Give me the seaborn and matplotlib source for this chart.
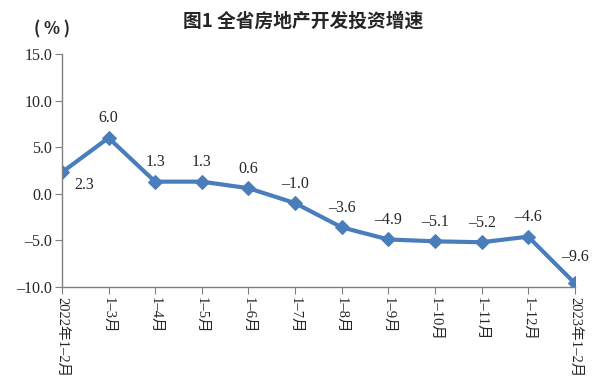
import pandas as pd
import seaborn as sns
import matplotlib.pyplot as plt

# Data
periods = ["2022年1–2月", "1–3月", "1–4月", "1–5月", "1–6月", "1–7月",
           "1–8月", "1–9月", "1–10月", "1–11月", "1–12月", "2023年1–2月"]
growth = [2.3, 6.0, 1.3, 1.3, 0.6, -1.0, -3.6, -4.9, -5.1, -5.2, -4.6, -9.6]
y_ticks = [-10.0, -5.0, 0.0, 5.0, 10.0, 15.0]

sns.set_style("white")
plt.rcParams["font.family"] = ["Liberation Serif", "Noto Sans CJK SC"]
plt.rcParams["axes.unicode_minus"] = False

df = pd.DataFrame({"pos": range(len(periods)), "growth": growth})

fig = plt.figure(figsize=(6.07, 3.91), dpi=100)
ax = fig.add_axes([0.102, 0.266, 0.845, 0.596])

line_color = "#4a7ebb"
sns.lineplot(data=df, x="pos", y="growth", ax=ax, color=line_color,
             linewidth=3, marker="D", markersize=7.5, markeredgecolor=line_color)

# Value labels
for i, v in enumerate(growth):
    txt = f"{v:.1f}".replace("-", "–")
    if i == 0:
        ax.annotate(txt, (i, v), xytext=(9, -9), textcoords="offset points",
                    ha="left", va="center", fontsize=11.5)
    elif i == len(growth) - 1:
        ax.annotate(txt, (i, v), xytext=(0, 19), textcoords="offset points",
                    ha="center", va="center", fontsize=11.5)
    else:
        ax.annotate(txt, (i, v), xytext=(0, 14), textcoords="offset points",
                    ha="center", va="center", fontsize=11.5)

ax.set_xlim(0, len(periods) - 1)
ax.set_ylim(-10, 15)
ax.set_yticks(y_ticks)
ax.set_yticklabels([f"{t:.1f}".replace("-", "–") for t in y_ticks], fontsize=11.5)
ax.set_xticks(range(len(periods)))
ax.set_xticklabels(periods, rotation=-90, fontsize=10.5, va="top", ha="center")
ax.set_xlabel("")
ax.set_ylabel("")

for side in ["top", "right"]:
    ax.spines[side].set_visible(False)
for side in ["left", "bottom"]:
    ax.spines[side].set_color("#808080")
    ax.spines[side].set_linewidth(1)
ax.tick_params(axis="y", direction="out", length=5, color="#808080", pad=2, left=True)
ax.tick_params(axis="x", direction="out", length=5, color="#808080", pad=2, bottom=True)

fig.text(0.5, 0.945, "图1 全省房地产开发投资增速", ha="center", va="center",
         fontsize=13.5, fontweight="bold", family=["Noto Sans CJK SC"])
fig.text(0.085, 0.925, "( % )", ha="center", va="center", fontsize=12,
         fontweight="bold", family=["Noto Sans CJK SC"])

fig.savefig("out.png", dpi=100)
